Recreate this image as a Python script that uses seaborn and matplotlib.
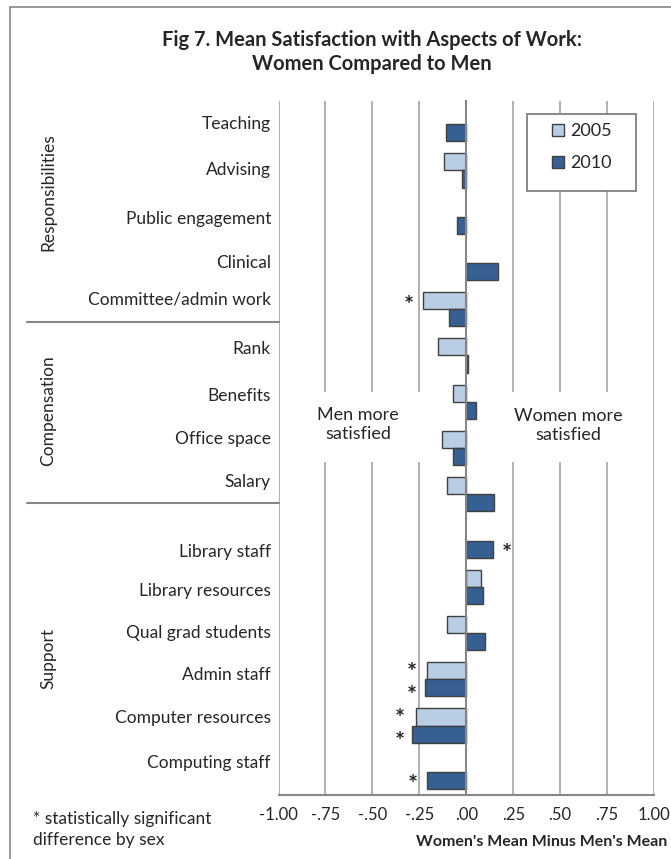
import matplotlib
matplotlib.use('Agg')
import matplotlib.pyplot as plt
import matplotlib.transforms as mtransforms
from matplotlib.patches import Rectangle
from matplotlib.lines import Line2D
import seaborn as sns
import pandas as pd
import numpy as np

# data
items = ['Teaching', 'Advising', 'Public engagement', 'Clinical', 'Committee/admin work',
         'Rank', 'Benefits', 'Office space', 'Salary',
         'Library staff', 'Library resources', 'Qual grad students', 'Admin staff',
         'Computer resources', 'Computing staff']
years = ['2005', '2010']
diff_2005 = [np.nan, -0.12, np.nan, np.nan, -0.23,
             -0.15, -0.07, -0.13, -0.10,
             np.nan, 0.08, -0.10, -0.21, -0.27, np.nan]
diff_2010 = [-0.11, -0.02, -0.05, 0.17, -0.09,
             0.01, 0.05, -0.07, 0.15,
             0.14, 0.09, 0.10, -0.22, -0.29, -0.21]
sig_2005 = [False, False, False, False, True,
            False, False, False, False,
            False, False, False, True, True, False]
sig_2010 = [False, False, False, False, False,
            False, False, False, False,
            True, False, False, True, True, True]
groups = ['Responsibilities', 'Compensation', 'Support']
xticks = [-1.0, -0.75, -0.5, -0.25, 0.0, 0.25, 0.5, 0.75, 1.0]
xtick_labels = ['-1.00', '-.75', '-.50', '-.25', '.00', '.25', '.50', '.75', '1.00']

# layout (category units)
label_pos = [0.0, 1.0, 2.05, 3.0, 3.8, 4.86, 5.87, 6.8, 7.73,
             9.24, 10.1, 11.0, 11.9, 12.83, 13.8]
group_pos = [1.46, 6.2, 11.55]
separator_pos = [4.28, 8.19]

df = pd.DataFrame({
    'item': items * 2,
    'year': [years[0]] * len(items) + [years[1]] * len(items),
    'diff': diff_2005 + diff_2010,
}).dropna()
sig = {years[0]: sig_2005, years[1]: sig_2010}

sns.set_style('white')
plt.rcParams['font.family'] = ['Lato', 'DejaVu Sans']

fig = plt.figure(figsize=(6.71, 8.59), dpi=100)
ax = fig.add_axes([278.5 / 671, 1 - 795 / 859, 375.5 / 671, 694 / 859])

light = '#B9CDE5'
dark = '#376092'
sns.barplot(data=df, y='item', x='diff', hue='year', order=items, hue_order=years,
            palette=[light, dark], orient='h', width=0.74, gap=0,
            edgecolor='#404040', linewidth=1, saturation=1, ax=ax, zorder=2)

ax.set_xlim(-1, 1)
ax.set_ylim(len(items) - 0.5, -0.5)
ax.set_xticks(xticks)
ax.set_xticklabels(xtick_labels, fontsize=12)
ax.set_yticks(np.arange(len(items) + 1) - 0.5)
ax.set_yticklabels([])
ax.set_ylabel('')
ax.set_xlabel("Women's Mean Minus Men's Mean", fontsize=11.5, fontweight='bold')
ax.xaxis.set_label_coords(0.70, -0.058)
ax.xaxis.label.set_va('top')

ax.grid(axis='x', color='#B0B0B0', lw=1.4, zorder=0)
ax.set_axisbelow(True)
for s in ['top', 'right']:
    ax.spines[s].set_visible(False)
ax.spines['left'].set_position(('data', 0))
for s in ['left', 'bottom']:
    ax.spines[s].set_color('#868686')
    ax.spines[s].set_linewidth(1.5)
    ax.spines[s].set_zorder(4)
ax.tick_params(axis='x', direction='out', length=5, width=1.3, color='#868686', pad=4)
ax.tick_params(axis='y', direction='out', length=5, width=1.3, color='#868686')

# legend: frame drawn separately, entries placed inside it
handles, labels = ax.get_legend_handles_labels()
ax.add_patch(Rectangle((0.662, 0.871), 0.29, 0.11, transform=ax.transAxes,
                       facecolor='white', edgecolor='#808080', lw=1.3, zorder=5))
leg = ax.legend(handles, labels, loc='upper left', bbox_to_anchor=(0.728, 0.968),
                fontsize=13, frameon=False, borderpad=0, borderaxespad=0,
                handlelength=0.65, handleheight=0.65, handletextpad=0.35,
                labelspacing=0.9)
leg.set_zorder(6)

# significance stars (one text per category, stacked when both years are flagged)
for k in range(len(items)):
    pts = []
    for cont, yr in zip(ax.containers, years):
        for bar in cont:
            w = bar.get_width()
            yc = bar.get_y() + bar.get_height() / 2
            if not np.isnan(w) and int(round(yc)) == k and sig[yr][k]:
                pts.append((w, yc))
    if pts:
        w = np.mean([p[0] for p in pts])
        yc = np.mean([p[1] for p in pts])
        ax.annotate('\n'.join(['*'] * len(pts)), xy=(w, yc),
                    xytext=(-10 if w < 0 else 10, -4), textcoords='offset points',
                    ha='center', va='center', fontsize=17, fontweight='bold',
                    linespacing=1.0, zorder=5)

# category labels
lab_tr = mtransforms.blended_transform_factory(ax.transAxes, ax.transData)
for name, p in zip(items, label_pos):
    ax.text(-0.02, p, name, transform=lab_tr, ha='right', va='center', fontsize=12.5)

# group labels and separators
grp_tr = mtransforms.blended_transform_factory(fig.transFigure, ax.transData)
for g, p in zip(groups, group_pos):
    ax.text(48 / 671, p, g, transform=grp_tr, rotation=90, ha='center', va='center',
            fontsize=12.5, clip_on=False)
for p in separator_pos:
    ax.add_line(Line2D([27 / 671, 278.5 / 671], [p, p], transform=grp_tr,
                       color='#868686', lw=1.5, clip_on=False))

# "more satisfied" notes on white boxes
ax.add_patch(Rectangle((-0.87, 5.79), 0.68, 1.51, facecolor='white', edgecolor='none', zorder=1))
ax.add_patch(Rectangle((0.19, 5.79), 0.68, 1.51, facecolor='white', edgecolor='none', zorder=1))
ax.text(-0.576, 6.49, 'Men more\nsatisfied', ha='center', va='center', fontsize=13,
        linespacing=1.25, zorder=1.5)
ax.text(0.544, 6.52, 'Women more\nsatisfied', ha='center', va='center', fontsize=13,
        linespacing=1.25, zorder=1.5)

fig.text(372 / 671, 1 - 52 / 859,
         'Fig 7. Mean Satisfaction with Aspects of Work:\nWomen Compared to Men',
         ha='center', va='center', fontsize=14.5, fontweight='bold', linespacing=1.3)
fig.text(33 / 671, 1 - 829.5 / 859, '* statistically significant\ndifference by sex',
         ha='left', va='center', fontsize=12.5, linespacing=1.35)

fig.patches.append(Rectangle((10 / 671, -0.1), 2, 1.1 - 7 / 859, transform=fig.transFigure,
                             facecolor='none', edgecolor='#868686', lw=1.2))

fig.savefig('out.png', dpi=100)
